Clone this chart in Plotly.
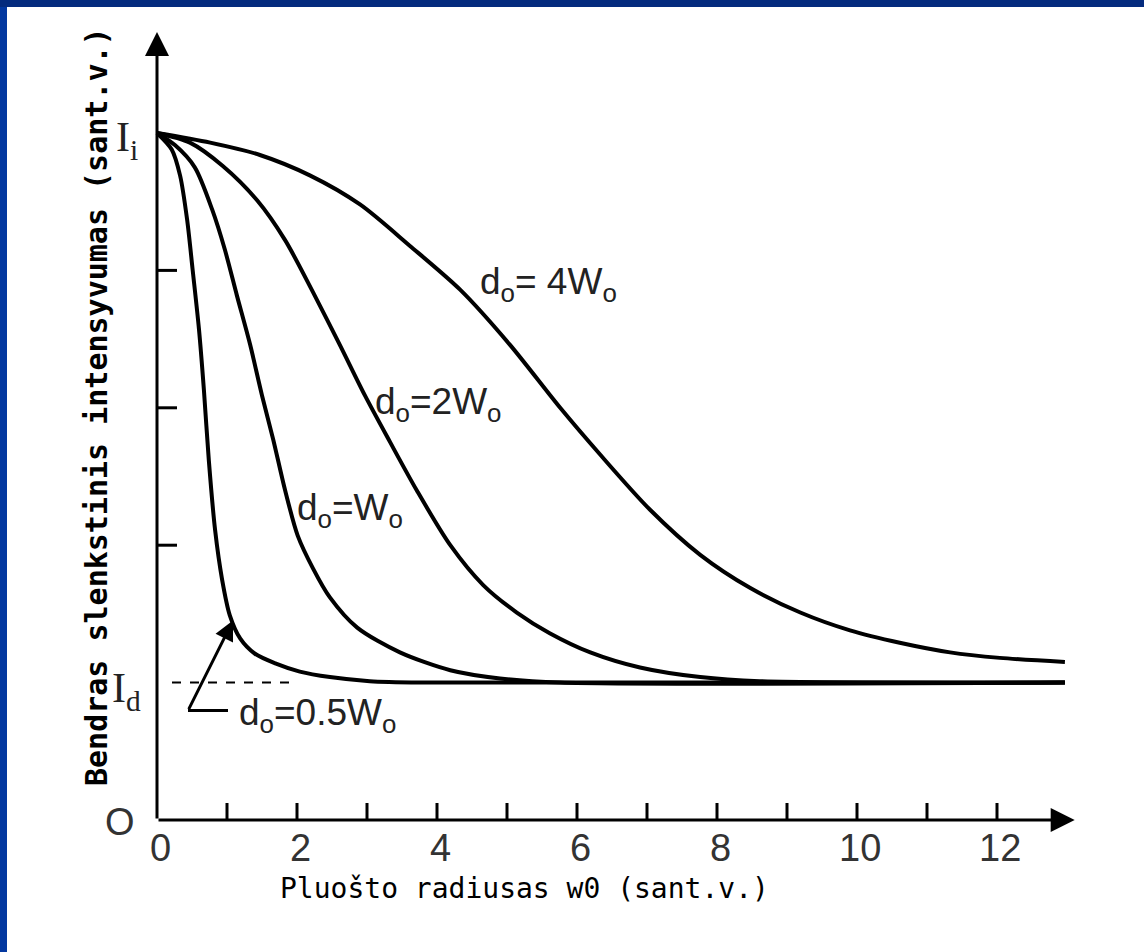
import plotly.graph_objects as go

# ---------------- data ----------------
# curve d0 = 0.5 W0
x_05 = [0, 0.21, 0.33, 0.43, 0.51, 0.6, 0.67, 0.74, 0.83, 0.93, 1.04, 1.19, 1.4, 1.69, 2.04, 2.47, 3.04, 3.76, 12.97]
y_05 = [5.0, 4.88, 4.69, 4.37, 4.0, 3.57, 3.13, 2.62, 2.11, 1.75, 1.49, 1.32, 1.21, 1.14, 1.08, 1.04, 1.01, 1.0, 1.0]
# curve d0 = W0
x_1 = [0, 0.26, 0.54, 0.79, 0.97, 1.14, 1.33, 1.5, 1.66, 1.83, 2.01, 2.23, 2.47, 2.86, 3.47, 4.19, 4.9, 5.76, 12.97]
y_1 = [5.0, 4.91, 4.75, 4.44, 4.15, 3.82, 3.46, 3.09, 2.77, 2.40, 2.07, 1.83, 1.62, 1.40, 1.22, 1.09, 1.03, 1.0, 1.0]
# curve d0 = 2 W0
x_2 = [0, 0.47, 0.94, 1.43, 1.83, 2.23, 2.61, 2.97, 3.33, 3.71, 4.19, 4.66, 5.14, 5.61, 6.19, 6.9, 7.76, 8.61, 12.97]
y_2 = [5.0, 4.93, 4.76, 4.51, 4.22, 3.84, 3.46, 3.09, 2.75, 2.40, 2.0, 1.71, 1.51, 1.36, 1.22, 1.11, 1.04, 1.01, 1.0]
# curve d0 = 4 W0
x_4 = [0, 0.76, 1.47, 2.19, 2.9, 3.61, 4.33, 5.04, 5.76, 6.33, 7.04, 7.76, 8.47, 9.19, 9.9, 10.61, 11.33, 12.04, 12.97]
y_4 = [5.0, 4.93, 4.84, 4.69, 4.48, 4.18, 3.86, 3.46, 3.0, 2.66, 2.26, 1.93, 1.69, 1.51, 1.38, 1.29, 1.22, 1.18, 1.15]

curve_labels = ["d<sub>o</sub>= 4W<sub>o</sub>", "d<sub>o</sub>=2W<sub>o</sub>",
                "d<sub>o</sub>=W<sub>o</sub>", "d<sub>o</sub>=0.5W<sub>o</sub>"]
curve_label_x = [4.586, 3.086, 1.971, 1.143]
curve_label_y = [4.083, 3.21, 2.438, 0.946]

x_tick_marks = list(range(1, 13))
y_tick_marks = [2, 3, 4]
x_tick_vals = [0, 2, 4, 6, 8, 10, 12]
x_tick_text = ["0", "2", "4", "6", "8", "10", "12"]
I_i_level = 5
I_d_level = 1
x_axis_end = 13.11
y_axis_end = 5.735

x_title = "Pluošto radiusas w0 (sant.v.)"
y_title = "Bendras slenkstinis intensyvumas (sant.v.)"

# ---------------- geometry ----------------
W, H = 1144, 952
X0_PX, PX_PER_X = 157, 70.0
Y0_PX, PX_PER_Y = 820, 137.4
xr = [-X0_PX / PX_PER_X, (W - X0_PX) / PX_PER_X]
yr = [-(H - Y0_PX) / PX_PER_Y, Y0_PX / PX_PER_Y]


def dx(px):
    return px / PX_PER_X


def dy(px):
    return px / PX_PER_Y


fig = go.Figure()

line_style = dict(color="black", width=4, shape="spline", smoothing=0.8)
for xs, ys in [(x_05, y_05), (x_1, y_1), (x_2, y_2), (x_4, y_4)]:
    fig.add_trace(go.Scatter(x=xs, y=ys, mode="lines", line=line_style,
                             hoverinfo="skip", showlegend=False))

# tick marks
tx, ty = [], []
for v in x_tick_marks:
    tx += [v, v, None]
    ty += [0, dy(17), None]
for v in y_tick_marks:
    tx += [0, dx(20), None]
    ty += [v, v, None]
fig.add_trace(go.Scatter(x=tx, y=ty, mode="lines", line=dict(color="black", width=3),
                         hoverinfo="skip", showlegend=False))

# dashed I_d guide
fig.add_trace(go.Scatter(x=[dx(15), dx(133)], y=[I_d_level, I_d_level], mode="lines",
                         line=dict(color="black", width=2, dash="dash"),
                         hoverinfo="skip", showlegend=False))

ann = []
# axes with arrowheads
ann.append(dict(x=0, y=y_axis_end, ax=0, ay=0, xref="x", yref="y", axref="x", ayref="y",
                text="", showarrow=True, arrowhead=2, arrowsize=1.6, arrowwidth=3,
                arrowcolor="black"))
ann.append(dict(x=x_axis_end, y=0, ax=0, ay=0, xref="x", yref="y", axref="x", ayref="y",
                text="", showarrow=True, arrowhead=2, arrowsize=1.6, arrowwidth=3,
                arrowcolor="black"))
# pointer arrow to 0.5 W0 curve
p_base_x, p_base_y = dx(31), I_d_level - dy(28)
ann.append(dict(x=dx(76), y=I_d_level + dy(62), ax=p_base_x, ay=p_base_y,
                xref="x", yref="y", axref="x", ayref="y", text="", showarrow=True,
                arrowhead=2, arrowsize=1.3, arrowwidth=3, arrowcolor="black"))
fig.add_trace(go.Scatter(x=[p_base_x, p_base_x + dx(40)], y=[p_base_y, p_base_y],
                         mode="lines", line=dict(color="black", width=3),
                         hoverinfo="skip", showlegend=False))

# x tick labels
for v, t in zip(x_tick_vals, x_tick_text):
    ann.append(dict(x=v + dx(3), y=-dy(28), xref="x", yref="y", text=t, showarrow=False,
                    xanchor="center", yanchor="middle",
                    font=dict(family="Liberation Sans", size=38, color="#333")))
# y special labels
ann.append(dict(x=-dx(20), y=0 - dy(2), xref="x", yref="y", text="O", showarrow=False,
                xanchor="right", yanchor="middle",
                font=dict(family="Liberation Sans", size=38, color="#333")))
ann.append(dict(x=-dx(14), y=I_d_level - dy(8), xref="x", yref="y", text="I<sub>d</sub>",
                showarrow=False, xanchor="right", yanchor="middle",
                font=dict(family="Liberation Serif", size=42, color="#222")))
ann.append(dict(x=-dx(17), y=I_i_level - dy(7), xref="x", yref="y", text="I<sub>i</sub>",
                showarrow=False, xanchor="right", yanchor="middle",
                font=dict(family="Liberation Serif", size=42, color="#222")))

# curve labels
for t, lx, ly in zip(curve_labels, curve_label_x, curve_label_y):
    ann.append(dict(x=lx, y=ly, xref="x", yref="y", text=t, showarrow=False,
                    xanchor="left", yanchor="top",
                    font=dict(family="Liberation Sans", size=37, color="#222")))

# axis titles
ann.append(dict(x=(524 - X0_PX) / PX_PER_X, y=(Y0_PX - 888) / PX_PER_Y, xref="x", yref="y",
                text=x_title, showarrow=False, xanchor="center", yanchor="middle",
                font=dict(family="DejaVu Sans Mono", size=28, color="black")))
ann.append(dict(x=(96 - X0_PX) / PX_PER_X, y=(Y0_PX - 407) / PX_PER_Y, xref="x", yref="y",
                text=y_title, showarrow=False, xanchor="center", yanchor="middle", textangle=-90,
                font=dict(family="DejaVu Sans Mono", size=30, color="black", weight="bold")))

shapes = [
    dict(type="rect", xref="paper", yref="paper", x0=0, x1=7 / W, y0=0, y1=1,
         fillcolor="#0338a0", line=dict(width=0), layer="above"),
    dict(type="rect", xref="paper", yref="paper", x0=0, x1=1, y0=1 - 7 / H, y1=1,
         fillcolor="#042b7e", line=dict(width=0), layer="above"),
]

fig.update_layout(
    width=W, height=H, autosize=False,
    margin=dict(l=0, r=0, t=0, b=0, pad=0),
    paper_bgcolor="white", plot_bgcolor="white",
    xaxis=dict(range=xr, visible=False, fixedrange=True),
    yaxis=dict(range=yr, visible=False, fixedrange=True),
    annotations=ann, shapes=shapes, showlegend=False,
)

fig.write_html("out.html")
